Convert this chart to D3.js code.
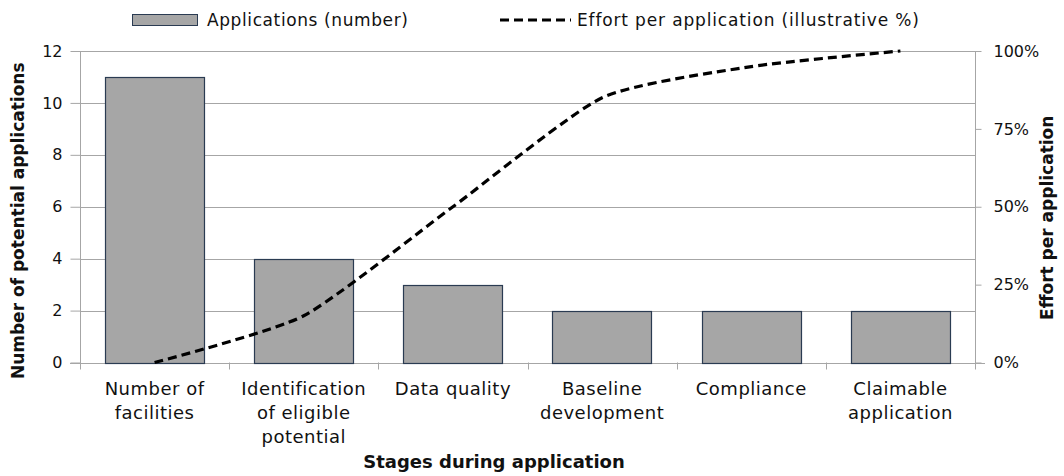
<!DOCTYPE html>
<html>
<head>
<meta charset="utf-8">
<script src="https://cdn.jsdelivr.net/npm/d3@7"></script>
<style>
  html, body { margin: 0; padding: 0; background: #fff; }
  svg { display: block; }
  text { font-family: "DejaVu Sans", sans-serif; fill: #111; }
</style>
</head>
<body>
<svg id="chart" width="1064" height="476"></svg>
<script>
// Stages of the application funnel
const stages = [
  ["Number of", "facilities"],
  ["Identification", "of eligible", "potential"],
  ["Data quality"],
  ["Baseline", "development"],
  ["Compliance"],
  ["Claimable", "application"]
];
// Number of potential applications remaining at each stage
const applications = [11, 4, 3, 2, 2, 2];
// Effort per application, illustrative share (%)
const effort = [0, 15, 50, 85, 95, 100];
// Axis ticks
const leftTicks = [0, 2, 4, 6, 8, 10, 12];
const rightTicks = [0, 25, 50, 75, 100];

const svg = d3.select("#chart");
const plot = { left: 80, right: 975, top: 51, bottom: 362.5 };
const gridColor = "#a6a6a6";

const x = d3.scaleBand()
  .domain(d3.range(stages.length))
  .range([plot.left, plot.right])
  .paddingInner(0).paddingOuter(0);
const y = d3.scaleLinear().domain([0, 12]).range([plot.bottom, plot.top]);
const y2 = d3.scaleLinear().domain([0, 100]).range([plot.bottom, plot.top]);

// Horizontal gridlines
svg.append("g")
  .selectAll("line")
  .data(leftTicks.slice(1))
  .join("line")
  .attr("x1", plot.left).attr("x2", plot.right)
  .attr("y1", d => Math.round(y(d)) + 0.5).attr("y2", d => Math.round(y(d)) + 0.5)
  .attr("stroke", gridColor).attr("stroke-width", 1);

// Left value axis
const leftAxis = svg.append("g")
  .attr("transform", `translate(${plot.left + 0.5},0)`)
  .call(d3.axisLeft(y).tickValues(leftTicks).tickSize(10).tickPadding(8).tickFormat(d3.format("d")));
leftAxis.select(".domain").attr("stroke", gridColor).attr("d", `M0,${y(12)}V${plot.bottom + 7}`);
leftAxis.selectAll(".tick line").attr("stroke", gridColor);
leftAxis.selectAll(".tick text").style("font-size", "16px").style("font-family", "DejaVu Sans").attr("fill", "#111");

// Right percentage axis
const rightAxis = svg.append("g")
  .attr("transform", `translate(${plot.right + 0.5},0)`)
  .call(d3.axisRight(y2).tickValues(rightTicks).tickSize(6).tickPadding(12).tickFormat(d => d + "%"));
rightAxis.select(".domain").attr("stroke", gridColor).attr("d", `M0,${y2(100)}V${plot.bottom + 7}`);
rightAxis.selectAll(".tick line").attr("stroke", gridColor);
rightAxis.selectAll(".tick text").style("font-size", "16px").style("font-family", "DejaVu Sans").attr("fill", "#111");

// Bottom category axis: baseline and separators between categories
const bottomAxis = svg.append("g")
  .attr("transform", `translate(0,${Math.round(plot.bottom) + 0.5})`)
  .call(d3.axisBottom(x).tickSize(0).tickFormat(""));
bottomAxis.select(".domain").attr("stroke", gridColor).attr("d", `M${plot.left - 10},0H${plot.right + 10}`);
svg.append("g")
  .selectAll("line")
  .data(d3.range(1, stages.length))
  .join("line")
  .attr("x1", d => Math.round(x(d)) + 0.5).attr("x2", d => Math.round(x(d)) + 0.5)
  .attr("y1", plot.bottom).attr("y2", plot.bottom + 7)
  .attr("stroke", gridColor);

// Category labels, one tspan per line
const labels = svg.append("g")
  .selectAll("text")
  .data(stages)
  .join("text")
  .attr("text-anchor", "middle")
  .style("font-size", "18px")
  .style("letter-spacing", "0.5px");
labels.each(function (lines, i) {
  const t = d3.select(this);
  lines.forEach((ln, j) => {
    t.append("tspan")
      .attr("x", x(i) + x.bandwidth() / 2)
      .attr("y", 395 + j * 24)
      .text(ln);
  });
});

// Bars
const barW = x.bandwidth() / 1.5;
svg.append("g")
  .selectAll("rect")
  .data(applications)
  .join("rect")
  .attr("x", (d, i) => Math.round(x(i) + (x.bandwidth() - barW) / 2) + 0.5)
  .attr("y", d => Math.round(y(d)) + 0.5)
  .attr("width", Math.round(barW))
  .attr("height", d => Math.round(plot.bottom) - Math.round(y(d)))
  .attr("fill", "#a6a6a6")
  .attr("stroke", "#2a3b52")
  .attr("stroke-width", 1.2);

// Effort line, smoothed
const line = d3.line()
  .x((d, i) => x(i) + x.bandwidth() / 2)
  .y(d => y2(d))
  .curve(d3.curveCardinal.tension(0.4));
svg.append("path")
  .datum(effort)
  .attr("d", line)
  .attr("fill", "none")
  .attr("stroke", "#000")
  .attr("stroke-width", 3.2)
  .attr("stroke-dasharray", "9,5");

// Axis titles
svg.append("text")
  .attr("transform", `translate(24,${(plot.top + plot.bottom) / 2 + 14}) rotate(-90)`)
  .attr("text-anchor", "middle")
  .style("font-size", "17px").style("font-weight", "bold")
  .text("Number of potential applications");
svg.append("text")
  .attr("transform", `translate(1053,${(plot.top + plot.bottom) / 2 + 11}) rotate(-90)`)
  .attr("text-anchor", "middle")
  .style("font-size", "17px").style("font-weight", "bold")
  .text("Effort per application");
svg.append("text")
  .attr("x", 494).attr("y", 468)
  .attr("text-anchor", "middle")
  .style("font-size", "18px").style("font-weight", "bold")
  .text("Stages during application");

// Legend
const legend = svg.append("g");
legend.append("rect")
  .attr("x", 132.5).attr("y", 14.5).attr("width", 65).attr("height", 11)
  .attr("fill", "#a6a6a6").attr("stroke", "#2a3b52");
legend.append("text")
  .attr("x", 207).attr("y", 26)
  .style("font-size", "17px").style("letter-spacing", "0.6px")
  .text("Applications (number)");
legend.append("line")
  .attr("x1", 500).attr("x2", 571).attr("y1", 20).attr("y2", 20)
  .attr("stroke", "#000").attr("stroke-width", 3.2).attr("stroke-dasharray", "9,5");
legend.append("text")
  .attr("x", 577).attr("y", 26)
  .style("font-size", "17px").style("letter-spacing", "0.85px")
  .text("Effort per application (illustrative %)");
</script>
</body>
</html>
